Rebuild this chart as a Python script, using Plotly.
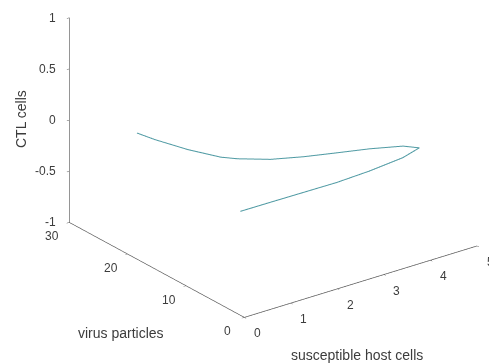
import plotly.graph_objects as go

# trajectory values
host_cells = [0.04, 0.68, 1.38, 2.09, 2.84, 3.62, 4.10, 3.92, 3.40, 2.84, 2.29, 1.77, 1.33, 1.14, 0.88, 0.68, 0.60]
virus = [1.0, 0.96, 0.91, 0.85, 1.14, 1.75, 2.72, 4.09, 5.59, 6.83, 8.09, 9.61, 11.77, 13.14, 16.7, 20.76, 23.2]
ctl = [0.0] * len(host_cells)

x_ticks = [0, 1, 2, 3, 4, 5]
y_ticks = [0, 10, 20, 30]
z_ticks = [-1, -0.5, 0, 0.5, 1]
x_labels = ["0", "1", "2", "3", "4", "5"]
y_labels = ["0", "10", "20", "30"]
z_labels = ["-1", "-0.5", "0", "0.5", "1"]

FONT = "Liberation Sans"
TXT = "#3c3c3c"
fig = go.Figure(go.Scatter3d(
    x=host_cells, y=virus, z=ctl, mode="lines",
    line=dict(color="#4f9aa3", width=2), hoverinfo="skip"))

axcommon = dict(showbackground=False, showgrid=False, zeroline=False,
                showline=True, linecolor="#555", linewidth=1.5,
                ticks="outside", tickcolor="#555", ticklen=3,
                showticklabels=False,
                showspikes=False, title=dict(text=""))

tickfont = dict(family=FONT, size=12, color=TXT)
scene_ann = []
for v, t in zip(x_ticks, x_labels):
    scene_ann.append(dict(x=v, y=0, z=-1, text=t, showarrow=False, xshift=13, yshift=-16,
                          font=tickfont))
for v, t in zip(y_ticks, y_labels):
    scene_ann.append(dict(x=0, y=v, z=-1, text=t, showarrow=False, xshift=-17, yshift=-14,
                          font=tickfont))
for v, t in zip(z_ticks, z_labels):
    scene_ann.append(dict(x=0, y=30, z=v, text=t, showarrow=False, xanchor="right",
                          xshift=-11, yshift=0, font=tickfont))

k = 1.60
cen = (-0.126, 0.0948, -0.302)
vd = (-0.549 * 2, -0.730 * 2, 0.4085 * 2)
fig.update_layout(
    width=489, height=364, margin=dict(l=0, r=0, t=0, b=0),
    paper_bgcolor="white", showlegend=False,
    scene=dict(
        domain=dict(x=[0, 1], y=[0, 1]),
        xaxis=dict(range=[0, 5], tickvals=x_ticks, **axcommon),
        yaxis=dict(range=[0, 30], tickvals=y_ticks, **axcommon),
        zaxis=dict(range=[-1, 1], tickvals=z_ticks, **axcommon),
        aspectmode="manual", aspectratio=dict(x=1 * k, y=1 * k, z=0.77 * k),
        camera=dict(projection=dict(type="orthographic"),
                    eye=dict(x=cen[0] + vd[0], y=cen[1] + vd[1], z=cen[2] + vd[2]),
                    center=dict(x=cen[0], y=cen[1], z=cen[2]), up=dict(x=0, y=0, z=1)),
        annotations=scene_ann,
    ),
    annotations=[
        dict(text="susceptible host cells", x=357 / 489, y=1 - 355 / 364, xref="paper", yref="paper",
             xanchor="center", yanchor="middle",
             showarrow=False, font=dict(family=FONT, size=14, color=TXT)),
        dict(text="virus particles", x=121 / 489, y=1 - 333 / 364, xref="paper", yref="paper",
             xanchor="center", yanchor="middle",
             showarrow=False, font=dict(family=FONT, size=14, color=TXT)),
        dict(text="CTL cells", x=21 / 489, y=1 - 119 / 364, xref="paper", yref="paper",
             xanchor="center", yanchor="middle",
             showarrow=False, textangle=-90, font=dict(family=FONT, size=14, color=TXT)),
    ],
)
fig.write_html("out.html", config={"displayModeBar": False},
               post_script="document.body.style.margin='0px';")
